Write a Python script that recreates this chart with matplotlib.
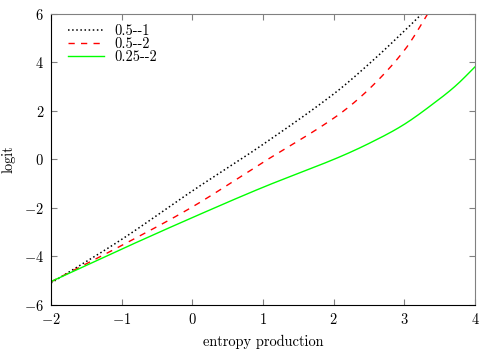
import numpy as np
import matplotlib
matplotlib.use('Agg')
import matplotlib.pyplot as plt

plt.rcParams['font.family'] = 'cmr10'
plt.rcParams['mathtext.fontset'] = 'cm'
plt.rcParams['axes.formatter.use_mathtext'] = True
plt.rcParams['font.size'] = 10.4

# values
x_a = [-2.0, -1.0, 0.0, 1.0, 2.0, 2.55, 3.0, 3.245, 3.3]
y_a = [-5.1, -3.3, -1.3, 0.62, 2.7, 4.07, 5.3, 6.0, 6.17]

x_b = [-2.0, -1.0, 0.0, 1.0, 2.0, 2.5, 3.0, 3.33, 3.4]
y_b = [-5.05, -3.55, -1.96, -0.12, 1.7, 2.9, 4.5, 6.0, 6.4]

x_c = [-2.0, -1.0, 0.0, 1.0, 2.0, 2.5, 3.0, 3.5, 3.75, 4.0]
y_c = [-5.04, -3.7, -2.4, -1.15, 0.0, 0.66, 1.45, 2.5, 3.1, 3.82]

labels = ['0.5--1', '0.5--2', '0.25--2']


def smooth(xs, ys, n=400):
    # cubic Hermite spline through the read points
    xs = np.asarray(xs, float)
    ys = np.asarray(ys, float)
    xf = np.linspace(xs[0], xs[-1], n)
    out = []
    for xv in xf:
        i = int(np.clip(np.searchsorted(xs, xv) - 1, 0, len(xs) - 2))
        h = xs[i + 1] - xs[i]
        m1 = (ys[i + 1] - ys[i - 1]) / (xs[i + 1] - xs[i - 1]) if i > 0 else (ys[1] - ys[0]) / (xs[1] - xs[0])
        if i + 2 < len(xs):
            m2 = (ys[i + 2] - ys[i]) / (xs[i + 2] - xs[i])
        else:
            m2 = (ys[-1] - ys[-2]) / (xs[-1] - xs[-2])
        t = (xv - xs[i]) / h
        h00 = 2 * t ** 3 - 3 * t ** 2 + 1
        h10 = t ** 3 - 2 * t ** 2 + t
        h01 = -2 * t ** 3 + 3 * t ** 2
        h11 = t ** 3 - t ** 2
        out.append(h00 * ys[i] + h10 * h * m1 + h01 * ys[i + 1] + h11 * h * m2)
    return xf, np.array(out)


fig = plt.figure(figsize=(5, 3.5), dpi=100)
ax = fig.add_axes([0.102, 0.129, 0.848, 0.831])

xa, ya = smooth(x_a, y_a)
xb, yb = smooth(x_b, y_b)
xc, yc = smooth(x_c, y_c)
ax.plot(xa, ya, color='black', linestyle=(0, (1, 1.7)), lw=1.1, label=labels[0])
ax.plot(xb, yb, color='red', linestyle=(0, (4.5, 4.5)), lw=1.0, label=labels[1])
ax.plot(xc, yc, color='#00ff00', linestyle='-', lw=1.0, label=labels[2])

ax.set_xlim(-2, 4)
ax.set_ylim(-6, 6)
ax.set_xticks(range(-2, 5))
ax.set_yticks(range(-6, 7, 2))
ax.set_xlabel('entropy production', labelpad=6)
ax.set_ylabel('logit', labelpad=6)

ax.tick_params(direction='in', top=True, right=True, length=4, color='#808080', pad=5)
for s in ['top', 'right']:
    ax.spines[s].set_color('#808080')
for s in ['bottom', 'left']:
    ax.spines[s].set_color('black')

ax.legend(loc='upper left', bbox_to_anchor=(0.04, 0.965), frameon=False,
          handlelength=2.5, borderaxespad=0, borderpad=0,
          labelspacing=-0.05, handletextpad=0.7)

fig.savefig('out.png', dpi=100)
